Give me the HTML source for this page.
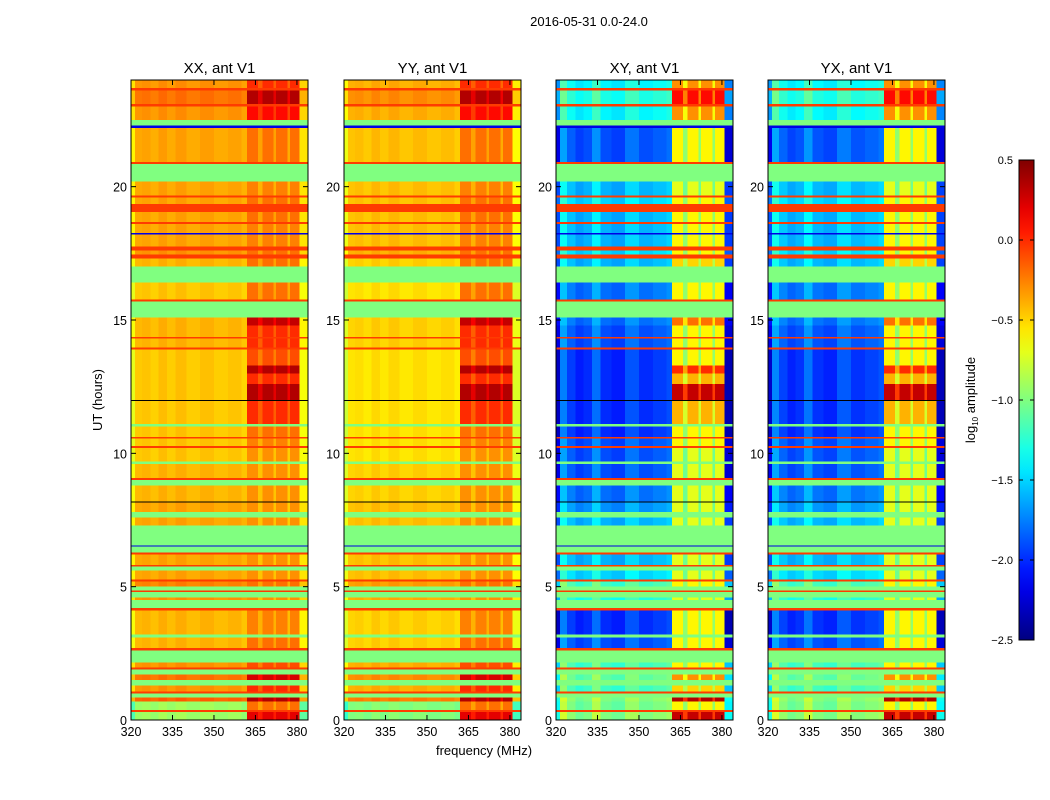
<!DOCTYPE html>
<html><head><meta charset="utf-8"><style>
body{margin:0;background:#fff;}
svg{display:block;font-family:"Liberation Sans",sans-serif;}
</style></head><body>
<svg id="fig" width="1050" height="800" viewBox="0 0 1050 800">
<text x="589" y="26" font-size="13" text-anchor="middle">2016-05-31 0.0-24.0</text>
<text x="102" y="400" font-size="13" text-anchor="middle" transform="rotate(-90 102 400)">UT (hours)</text>
<text x="484" y="755" font-size="13" text-anchor="middle">frequency (MHz)</text>
<text x="975" y="400" font-size="13" text-anchor="middle" transform="rotate(-90 975 400)">log<tspan font-size="8" dy="3">10</tspan><tspan dy="-3"> amplitude</tspan></text>
</svg>
<script>
// ---- data ----
const panelTitles = ["XX, ant V1","YY, ant V1","XY, ant V1","YX, ant V1"];
const panelIsCross = [0,0,1,1];
const panelLoShift = [0,-0.08,0,0.02];
const xTicks = [320,335,350,365,380];
const yTicks = [0,5,10,15,20];
const cbTicks = [0.5,0.0,-0.5,-1.0,-1.5,-2.0,-2.5];
const cbTickLabels = ["0.5","0.0","\u22120.5","\u22121.0","\u22121.5","\u22122.0","\u22122.5"];
// time segments (hours): start times, kind: d=data (column profile applies), u=uniform
const segStart = [0,0.3,0.38,0.7,0.85,1.0,1.07,1.3,1.5,1.7,1.9,1.97,2.15,2.6,2.7,3.1,3.2,4.1,4.2,4.5,4.6,4.8,4.85,5.0,5.2,5.27,5.6,5.75,5.82,6.2,6.28,6.5,6.55,7.3,7.6,7.8,8.15,8.2,8.8,9.0,9.07,9.6,9.7,10.2,10.27,10.55,10.62,11.0,11.1,11.97,12.0,12.6,13.0,13.3,13.9,13.97,14.3,14.37,14.8,15.1,15.7,15.77,16.4,17.0,17.3,17.45,17.6,17.75,18.2,18.27,18.6,18.67,19.05,19.35,19.6,19.67,20.2,20.85,20.92,22.2,22.3,22.5,23.0,23.1,23.6,23.7];
const segKind  = ["d","u","d","d","u","u","d","u","d","u","u","d","u","u","d","u","d","u","u","d","u","u","u","d","u","d","u","u","d","u","u","u","u","d","u","d","u","d","u","u","d","u","d","u","d","u","d","u","d","u","d","d","d","d","u","d","u","d","d","u","u","d","u","d","u","d","u","d","u","d","u","d","u","d","u","d","u","u","d","u","u","d","u","d","u","d"];
const autoLo  = [-0.9,-0.05,-0.9,-0.15,-1,-0.05,-0.3,-1,-0.2,-1,-0.05,-0.3,-1,-0.05,-0.4,-1,-0.4,-0.05,-1,-0.3,-1,-0.05,-1,-0.25,-0.05,-0.35,-1,-0.05,-0.35,-0.05,-1,-2.2,-1,-0.35,-1,-0.35,-99,-0.4,-1,-0.05,-0.4,-1,-0.45,-0.05,-0.45,-0.05,-0.45,-1,-0.45,-99,-0.45,-0.45,-0.45,-0.45,-0.05,-0.4,-0.05,-0.4,-0.4,-1,-0.05,-0.45,-1,-0.4,-0.05,-0.3,-0.05,-0.35,-2.2,-0.35,-0.05,-0.35,-0.05,-0.35,-0.05,-0.35,-1,-0.05,-0.35,-2.2,-1,-0.3,-0.05,-0.2,-0.05,-0.3];
const autoHi  = [0.2,-0.05,-0.2,0.35,-1,-0.05,0.0,-1,0.25,-1,-0.05,-0.1,-1,-0.05,-0.2,-1,-0.25,-0.05,-1,-0.3,-1,-0.05,-1,-0.2,-0.05,-0.3,-1,-0.05,-0.3,-0.05,-1,-2.2,-1,-0.3,-1,-0.3,-99,-0.3,-1,-0.05,-0.3,-1,-0.3,-0.05,-0.25,-0.05,-0.2,-1,0.0,-99,0.35,0.0,0.35,-0.1,-0.05,0.0,-0.05,0.0,0.3,-1,-0.05,-0.2,-1,-0.2,-0.05,-0.2,-0.05,-0.25,-2.2,-0.25,-0.05,-0.2,-0.05,-0.2,-0.05,-0.25,-1,-0.05,-0.2,-2.2,-1,0.1,-0.05,0.35,-0.05,0.0];
const crossLo = [-1.0,-0.05,-1.05,-1.0,-1,-0.05,-1.2,-1,-1.1,-1,-0.05,-1.2,-1,-0.05,-1.9,-1,-2.0,-0.05,-1,-1.3,-1,-0.05,-1,-1.2,-0.05,-1.5,-1,-0.05,-1.6,-0.05,-1,-2.2,-1,-1.6,-1,-1.7,-99,-1.8,-1,-0.05,-1.9,-1,-1.9,-0.05,-1.9,-0.05,-2.0,-1,-2.0,-99,-2.0,-2.0,-2.0,-2.0,-0.05,-1.9,-0.05,-1.9,-1.8,-1,-0.05,-1.8,-1,-1.6,-0.05,-1.5,-0.05,-1.6,-2.2,-1.6,-0.05,-1.6,-0.05,-1.5,-0.05,-1.6,-1,-0.05,-1.9,-2.2,-1,-1.4,-0.05,-1.3,-0.05,-1.4];
const crossHi = [0.3,-0.05,-0.6,0.35,-1,-0.05,-0.5,-1,-0.3,-1,-0.05,-0.6,-1,-0.05,-0.6,-1,-0.6,-0.05,-1,-0.7,-1,-0.05,-1,-0.6,-0.05,-0.7,-1,-0.05,-0.7,-0.05,-1,-2.2,-1,-0.7,-1,-0.7,-99,-0.7,-1,-0.05,-0.7,-1,-0.7,-0.05,-0.6,-0.05,-0.6,-1,-0.4,-99,0.3,-0.4,0.0,-0.6,-0.05,-0.6,-0.05,-0.6,-0.2,-1,-0.05,-0.6,-1,-0.5,-0.05,-0.6,-0.05,-0.6,-2.2,-0.6,-0.05,-0.6,-0.05,-0.6,-0.05,-0.7,-1,-0.05,-0.6,-2.2,-1,-0.3,-0.05,0.1,-0.05,-0.3];
// frequency columns (MHz)
const colEdges = [320,321.5,324,327,330,333,336,340,345,350,355,360,362,366,367.5,371.5,372.5,376.5,377.5,381,384];
const colIsHigh = [0,0,0,0,0,0,0,0,0,0,0,0,1,1,1,1,1,1,1,0];
const colAutoOff = [-0.25,-0.02,0,-0.04,0.02,-0.03,0.02,-0.03,0.01,-0.03,0,-0.05,0,-0.15,0,-0.15,0,-0.18,0,-0.2];
const colCrossOff = [-0.3,0.25,0.05,-0.05,0,0.2,0,-0.05,0.12,0,0.05,0.1,0,-0.35,0,-0.35,0,-0.35,0,-0.35];
// ---- layout ----
const NS="http://www.w3.org/2000/svg";
const svg=document.getElementById('fig');
const panelX=[131,344,556,768], PW=177, PT=80, PB=720;
const fMin=320,fMax=384,tMin=0,tMax=24;
function xs(p,f){return panelX[p]+(f-fMin)/(fMax-fMin)*PW;}
function ys(t){return PB-(t-tMin)/(tMax-tMin)*(PB-PT);}
function jet(v){
  if(v<-50) return "#000";
  let t=(v+2.5)/3; t=Math.max(0,Math.min(1,t));
  const c=x=>Math.round(255*Math.max(0,Math.min(1,1.5-Math.abs(4*t-x))));
  return `rgb(${c(3)},${c(2)},${c(1)})`;
}
function mk(tag,attrs,parent){const e=document.createElementNS(NS,tag);for(const k in attrs)e.setAttribute(k,attrs[k]);(parent||svg).appendChild(e);return e;}
for(let p=0;p<4;p++){
  const g=mk('g',{'shape-rendering':'crispEdges'});
  
  
  const cr=panelIsCross[p];
  for(let s=0;s<segStart.length;s++){
    const t0=segStart[s], t1=(s+1<segStart.length)?segStart[s+1]:tMax;
    const y0=ys(t1), y1=ys(t0);
    const lo=(cr?crossLo[s]:autoLo[s]), hi=(cr?crossHi[s]:autoHi[s]);
    if(segKind[s]==='u'){
      const r=mk('rect',{x:xs(p,fMin),y:y0,width:PW,height:Math.max(1,y1-y0),fill:jet(lo)},g);
      
      
      continue;
    }
    for(let c=0;c<colIsHigh.length;c++){
      const off=cr?colCrossOff[c]:colAutoOff[c];
      const base=colIsHigh[c]?hi:(lo+panelLoShift[p]);
      const v=base<-50?base:base+off;
      const xa=xs(p,colEdges[c]), xb=xs(p,colEdges[c+1]);
      const r=mk('rect',{x:xa,y:y0,width:xb-xa+0.3,height:Math.max(1,y1-y0),fill:jet(v)},g);
      
      
    }
  }
  const fr=mk('rect',{x:panelX[p],y:PT,width:PW,height:PB-PT,fill:'none',stroke:'#000','stroke-width':1});
  
  
  const ti=mk('text',{x:panelX[p]+PW/2,y:73,'font-size':15,'text-anchor':'middle'});
  ti.textContent=panelTitles[p];
  
  
  xTicks.forEach(f=>{
    const x=xs(p,f);
    mk('line',{x1:x,x2:x,y1:PB,y2:PB-5,stroke:'#000'});
    mk('line',{x1:x,x2:x,y1:PT,y2:PT+5,stroke:'#000'});
    const tl=mk('text',{x:x,y:736,'font-size':12.5,'text-anchor':'middle'});
    tl.textContent=f;
    
    
  });
  yTicks.forEach(t=>{
    const y=ys(t);
    mk('line',{x1:panelX[p],x2:panelX[p]+5,y1:y,y2:y,stroke:'#000'});
    mk('line',{x1:panelX[p]+PW,x2:panelX[p]+PW-5,y1:y,y2:y,stroke:'#000'});
    const tl=mk('text',{x:panelX[p]-4,y:y+5,'font-size':12.5,'text-anchor':'end'});
    tl.textContent=t;
    
    
  });
}
// colorbar
const cbX=1019,cbW=15,cbT=160,cbB=640,vMin=-2.5,vMax=0.5;
const defs=mk('defs',{});
const lg=mk('linearGradient',{id:'jetg',x1:0,y1:1,x2:0,y2:0},defs);
for(let i=0;i<=20;i++){const v=vMin+(vMax-vMin)*i/20;mk('stop',{offset:i/20,'stop-color':jet(v)},lg);}
const cb=mk('rect',{x:cbX,y:cbT,width:cbW,height:cbB-cbT,fill:'url(#jetg)',stroke:'#000'});


cbTicks.forEach((v,i)=>{
  const y=cbB-(v-vMin)/(vMax-vMin)*(cbB-cbT);
  mk('line',{x1:cbX,x2:cbX+4,y1:y,y2:y,stroke:'#000'});
  mk('line',{x1:cbX+cbW,x2:cbX+cbW-4,y1:y,y2:y,stroke:'#000'});
  const tl=mk('text',{x:1013,y:y+4,'font-size':11,'text-anchor':'end'});
  tl.textContent=cbTickLabels[i];
  
  
});
</script>
</body></html>
